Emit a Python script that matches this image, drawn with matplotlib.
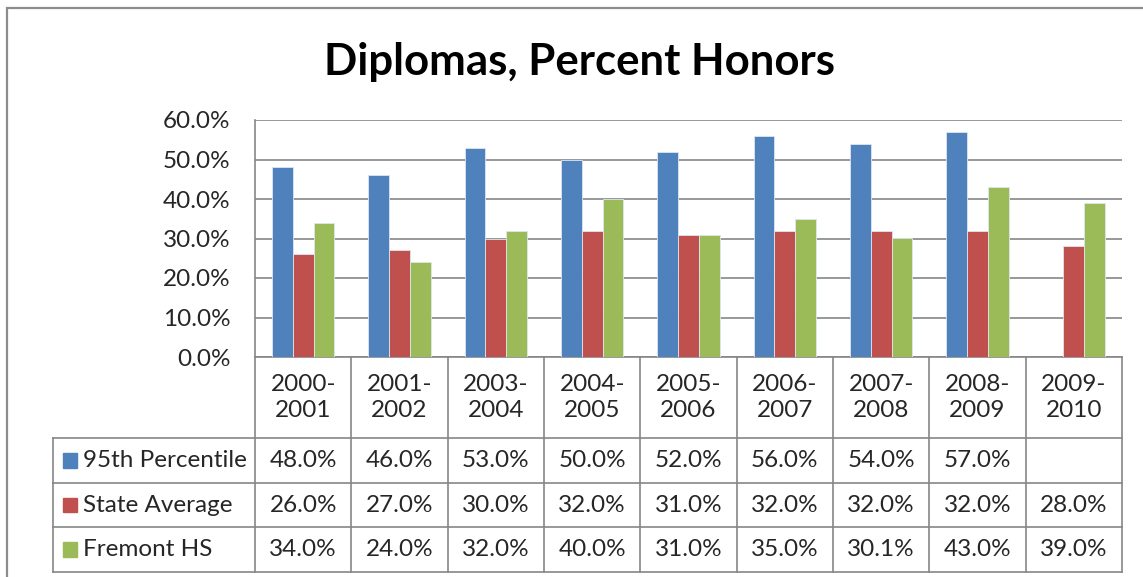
import numpy as np
import matplotlib
matplotlib.use("Agg")
from matplotlib import pyplot as plt
from matplotlib.patches import Rectangle

plt.rcParams['font.family'] = ['Lato', 'DejaVu Sans']

# data
years = ["2000-\n2001", "2001-\n2002", "2003-\n2004", "2004-\n2005", "2005-\n2006",
         "2006-\n2007", "2007-\n2008", "2008-\n2009", "2009-\n2010"]
pct95 = [48.0, 46.0, 53.0, 50.0, 52.0, 56.0, 54.0, 57.0, np.nan]
state_avg = [26.0, 27.0, 30.0, 32.0, 31.0, 32.0, 32.0, 32.0, 28.0]
fremont = [34.0, 24.0, 32.0, 40.0, 31.0, 35.0, 30.1, 43.0, 39.0]
series_names = ["95th Percentile", "State Average", "Fremont HS"]
colors = ["#4F81BD", "#C0504D", "#9BBB59"]
grid_col = "#868686"
txt_col = "#262626"
fs = 17.5

W, H = 1143, 577
fig = plt.figure(figsize=(W / 100, H / 100), dpi=100)

# outer chart frame
fig.add_artist(Rectangle((7 / W, -0.1), 1.2, 1 - 8 / H + 0.1, transform=fig.transFigure,
                         fill=False, edgecolor="#8c8c8c", lw=1.6))

ax = fig.add_axes([255 / W, 1 - 357 / H, (1122 - 255) / W, (357 - 120) / H])
fig.text(579 / W, 1 - 62 / H, "Diplomas, Percent Honors", ha="center", va="center",
         fontsize=31.5, fontweight="bold", color="black")

x = np.arange(len(years))
bw = 0.215
all_series = [pct95, state_avg, fremont]
for i, (vals, c) in enumerate(zip(all_series, colors)):
    ax.bar(x + (i - 1) * bw, vals, width=bw, color=c, edgecolor="#dde6f0", lw=0.6, zorder=3)

ax.set_xlim(-0.5, len(years) - 0.5)
ax.set_ylim(0, 60)
ax.set_yticks(np.arange(0, 61, 10))
ax.set_yticklabels([f"{v:.1f}%" for v in np.arange(0, 61, 10)])
ax.yaxis.grid(True, color=grid_col, lw=1.2, zorder=0)
ax.tick_params(axis="y", length=0, pad=17.5, labelsize=fs, labelcolor=txt_col)
ax.set_xticks([])
for s in ["top", "right", "bottom"]:
    ax.spines[s].set_visible(False)
ax.spines["left"].set_color(grid_col)
ax.spines["left"].set_linewidth(1.2)

# data table under the plot
tr = ax.get_xaxis_transform()
px = (1122 - 255) / len(years)           # pixels per category
key_left = -0.5 - (255 - 53) / px        # left edge of the legend column
ah = 357 - 120
row_y = [-(438 - 357) / ah, -(483 - 357) / ah, -(527 - 357) / ah, -(572 - 357) / ah]
lkw = dict(color=grid_col, lw=1.2, transform=tr, clip_on=False)

ax.plot([-0.5, len(years) - 0.5], [0, 0], **lkw)
for b in np.arange(len(years) + 1) - 0.5:
    ax.plot([b, b], [0, row_y[-1]], **lkw)
for yy in row_y:
    ax.plot([key_left, len(years) - 0.5], [yy, yy], **lkw)
ax.plot([key_left, key_left], [row_y[0], row_y[-1]], **lkw)

for xi, lab in zip(x, years):
    ax.text(xi, row_y[0] / 2, lab, transform=tr, ha="center", va="center",
            fontsize=fs, color=txt_col, linespacing=1.3)

sq = 14.5 / ah
for r, (name, vals, c) in enumerate(zip(series_names, all_series, colors)):
    yc = (row_y[r] + row_y[r + 1]) / 2
    ax.add_patch(Rectangle((key_left + 9.5 / px, yc - sq / 2), 14.5 / px, sq, transform=tr,
                           color=c, clip_on=False))
    ax.text(key_left + 30 / px, yc, name, transform=tr, ha="left", va="center",
            fontsize=fs, color=txt_col)
    for xi, v in zip(x, vals):
        if not np.isnan(v):
            ax.text(xi, yc, f"{v:.1f}%", transform=tr, ha="center", va="center",
                    fontsize=fs, color=txt_col)

fig.savefig("out.png", dpi=100)
